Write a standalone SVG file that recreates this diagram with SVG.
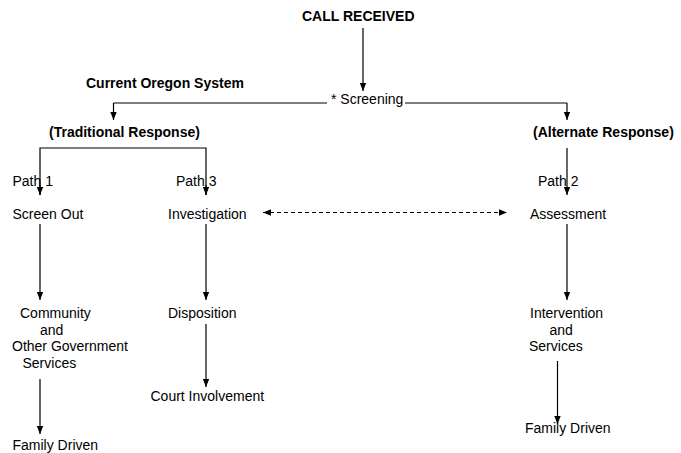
<svg xmlns="http://www.w3.org/2000/svg" width="681" height="453" viewBox="0 0 681 453">
<style>
text{font-family:"Liberation Sans",Arial,sans-serif;font-size:14px;fill:#000}
.b{font-weight:bold}
.ln{stroke:#000;stroke-width:1.2;fill:none}
.dash{stroke-dasharray:4 3}
</style>
<defs>
<marker id="ah" viewBox="0 0 8 8" refX="8" refY="4" markerWidth="8" markerHeight="8" markerUnits="userSpaceOnUse" orient="auto-start-reverse">
<path d="M0,0.8 L8,4 L0,7.2 Z" fill="#000"/>
</marker>
</defs>
<rect width="681" height="453" fill="#fff"/>
<g id="connectors">
<line class="ln" x1="363" y1="28" x2="363" y2="91" marker-end="url(#ah)"/>
<line class="ln" x1="113.5" y1="103" x2="327" y2="103"/>
<line class="ln" x1="405" y1="103" x2="567" y2="103"/>
<line class="ln" x1="113.5" y1="103" x2="113.5" y2="120" marker-end="url(#ah)"/>
<line class="ln" x1="567" y1="103" x2="567" y2="120" marker-end="url(#ah)"/>
<polyline class="ln" points="40,195 40,148 206,148 206,195"/>
<line class="ln" x1="40" y1="185" x2="40" y2="195" marker-end="url(#ah)"/>
<line class="ln" x1="206" y1="185" x2="206" y2="195" marker-end="url(#ah)"/>
<line class="ln" x1="567" y1="148" x2="567" y2="195" marker-end="url(#ah)"/>
<line class="ln dash" x1="263" y1="212.5" x2="507" y2="212.5" marker-start="url(#ah)" marker-end="url(#ah)"/>
<line class="ln" x1="40" y1="224" x2="40" y2="300" marker-end="url(#ah)"/>
<line class="ln" x1="40" y1="379" x2="40" y2="434" marker-end="url(#ah)"/>
<line class="ln" x1="206" y1="224" x2="206" y2="300" marker-end="url(#ah)"/>
<line class="ln" x1="206" y1="324" x2="206" y2="387" marker-end="url(#ah)"/>
<line class="ln" x1="567" y1="224" x2="567" y2="300" marker-end="url(#ah)"/>
<line class="ln" x1="557.5" y1="361" x2="557.5" y2="424" marker-end="url(#ah)"/>
</g>
<g id="call-received"><text class="b" x="302" y="21">CALL RECEIVED</text></g>
<g id="current-oregon"><text class="b" x="86" y="88">Current Oregon System</text></g>
<g id="screening"><text x="331" y="104">* Screening</text></g>
<g id="traditional"><text class="b" x="49" y="137">(Traditional Response)</text></g>
<g id="alternate"><text class="b" x="533" y="137">(Alternate Response)</text></g>
<g id="path1"><text x="12.5" y="186">Path 1</text></g>
<g id="path3"><text x="176" y="186">Path 3</text></g>
<g id="path2"><text x="538" y="186">Path 2</text></g>
<g id="screen-out"><text x="12.5" y="219">Screen Out</text></g>
<g id="investigation"><text x="168" y="219">Investigation</text></g>
<g id="assessment"><text x="530" y="219">Assessment</text></g>
<g id="community">
<text x="20" y="318">Community</text>
<text x="40" y="334.5">and</text>
<text x="12" y="351">Other Government</text>
<text x="22.5" y="367.5">Services</text>
</g>
<g id="disposition"><text x="168" y="318">Disposition</text></g>
<g id="court"><text x="150.5" y="401">Court Involvement</text></g>
<g id="intervention">
<text x="530" y="318">Intervention</text>
<text x="549.5" y="334.5">and</text>
<text x="529" y="351">Services</text>
</g>
<g id="family-left"><text x="12.5" y="450">Family Driven</text></g>
<g id="family-right"><text x="525" y="433">Family Driven</text></g>
</svg>
